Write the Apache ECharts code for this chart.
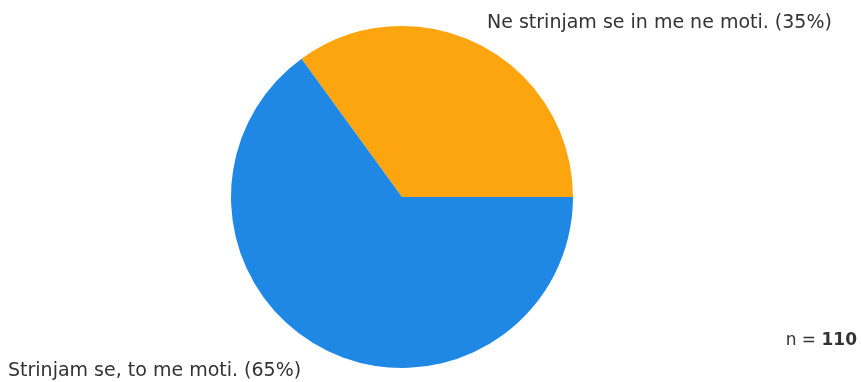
<!DOCTYPE html>
<html>
  <head>
      <meta charset="utf-8">
      <script src="https://cdn.jsdelivr.net/npm/echarts@6/dist/echarts.min.js"></script>
  </head>
  <body style="margin:0;background:#fff;">
      <div id="main" style="width: 861px;height:382px;"></div>
      <script type="text/javascript">
          var categories = ['Ne strinjam se in me ne moti.', 'Strinjam se, to me moti.'];
          var shares = [35, 65];
          var colors = ['#FDA50F', '#1F88E5'];
          var sampleSize = 110;

          var myChart = echarts.init(document.getElementById('main'));

          var pieData = categories.map(function (name, i) {
              return { name: name, value: shares[i], itemStyle: { color: colors[i] } };
          });

          // label spots copied from the reference layout
          var labelSpots = [
              { x: 487, y: 23, align: 'left' },
              { x: 8, y: 371, align: 'left' }
          ];

          var font = '"DejaVu Sans", Verdana, sans-serif';

          var option = {
              animation: false,
              textStyle: { fontFamily: font },
              series: [
                  {
                      type: 'pie',
                      center: [402, 197],
                      radius: 171,
                      startAngle: 0,
                      clockwise: false,
                      silent: true,
                      data: pieData,
                      label: {
                          show: true,
                          formatter: '{b} ({c}%)',
                          color: '#333',
                          fontSize: 19,
                          fontFamily: font,
                          overflow: 'none'
                      },
                      labelLine: { show: false },
                      labelLayout: function (params) {
                          var s = labelSpots[params.dataIndex];
                          return { x: s.x, y: s.y, align: s.align, verticalAlign: 'middle' };
                      }
                  }
              ],
              graphic: [
                  {
                      type: 'text',
                      right: 4,
                      top: 332,
                      style: {
                          text: '{a|n = }{b|' + sampleSize + '}',
                          rich: {
                              a: { fontSize: 17, fill: '#333', fontFamily: font },
                              b: { fontSize: 17, fill: '#333', fontWeight: 'bold', fontFamily: font }
                          }
                      }
                  }
              ]
          };
          myChart.setOption(option);
      </script>
  </body>
</html>
